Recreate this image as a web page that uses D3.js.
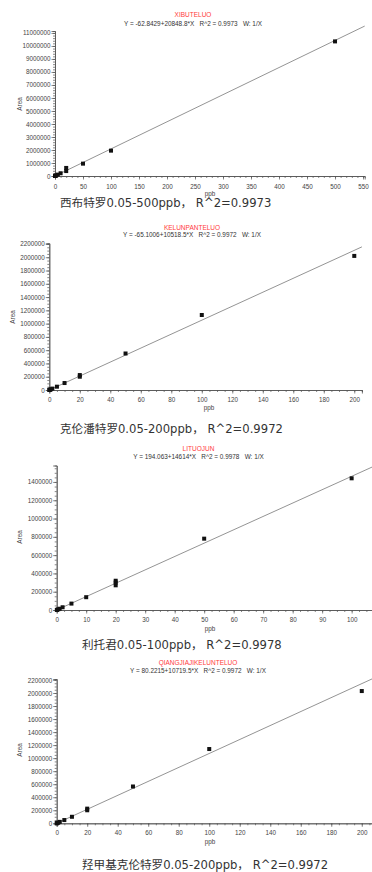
<!DOCTYPE html>
<html><head><meta charset="utf-8">
<script src="https://cdn.jsdelivr.net/npm/d3@7/dist/d3.min.js"></script>
<style>
html,body{margin:0;padding:0;background:#fff;}
svg{display:block;}
.eq{white-space:pre;}
</style></head>
<body>
<svg id="chart" width="372" height="872"></svg>
<script>
// ---- data ----
const titles = ["XIBUTELUO", "KELUNPANTELUO", "LITUOJUN", "QIANGJIAJIKELUNTELUO"];
const intercepts = ["-62.8429", "-65.1006", "194.063", "80.2215"];
const slopes = ["20848.8", "10518.5", "14614", "10719.5"];
const r2 = ["0.9973", "0.9972", "0.9978", "0.9972"];
const captions = [
  "西布特罗0.05-500ppb， R^2=0.9973",
  "克伦潘特罗0.05-200ppb， R^2=0.9972",
  "利托君0.05-100ppb， R^2=0.9978",
  "羟甲基克伦特罗0.05-200ppb， R^2=0.9972"
];
const conc1 = [0.05, 0.1, 0.5, 1, 2, 5, 10, 20, 20, 50, 100, 500];
const area1 = [900, 2000, 10000, 21000, 42000, 105000, 210000, 380000, 620000, 950000, 1950000, 10350000];
const conc2 = [0.05, 0.1, 0.5, 1, 2, 5, 10, 20, 20, 50, 100, 200];
const area2 = [500, 1000, 5000, 10500, 21000, 50000, 105000, 200000, 225000, 550000, 1130000, 2020000];
const conc3 = [0.05, 0.1, 0.5, 1, 2, 5, 10, 20, 20, 20, 50, 100];
const area3 = [700, 1500, 7000, 14000, 30000, 70000, 140000, 270000, 300000, 320000, 780000, 1440000];
const conc4 = [0.05, 0.1, 0.5, 1, 2, 5, 10, 20, 20, 50, 100, 200];
const area4 = [600, 1100, 5500, 11000, 22000, 50000, 100000, 200000, 225000, 565000, 1140000, 2030000];
const xTicks1 = [0, 50, 100, 150, 200, 250, 300, 350, 400, 450, 500, 550];
const xTicks2 = [0, 20, 40, 60, 80, 100, 120, 140, 160, 180, 200];
const xTicks3 = [0, 10, 20, 30, 40, 50, 60, 70, 80, 90, 100];
const xTicks4 = [0, 20, 40, 60, 80, 100, 120, 140, 160, 180, 200];
const yTicks1 = [0, 1000000, 2000000, 3000000, 4000000, 5000000, 6000000, 7000000, 8000000, 9000000, 10000000, 11000000];
const yTicks2 = [0, 200000, 400000, 600000, 800000, 1000000, 1200000, 1400000, 1600000, 1800000, 2000000, 2200000];
const yTicks3 = [0, 200000, 400000, 600000, 800000, 1000000, 1200000, 1400000];
const yTicks4 = [0, 200000, 400000, 600000, 800000, 1000000, 1200000, 1400000, 1600000, 1800000, 2000000, 2200000];
const xLabel = "ppb";
const yLabel = "Area";

const concs = [conc1, conc2, conc3, conc4];
const areas = [area1, area2, area3, area4];
const xTicksAll = [xTicks1, xTicks2, xTicks3, xTicks4];
const yTicksAll = [yTicks1, yTicks2, yTicks3, yTicks4];

// ---- layout ----
const layouts = [
  {xMax:553, xr:[55,364.7], yMax:11150000, yr:[176,31], titleX:193, titleY:17, eqY:25.5, xLabY:188.5, ppbX:210, ppbY:195.5, areaX:22, areaY:104, capX:60, capY:206.5, xMinor:10, yMinor:200000},
  {xMax:205, xr:[49.3,361.9], yMax:2210000, yr:[390,243.3], titleX:192, titleY:229.5, eqY:237.3, xLabY:401.5, ppbX:209, ppbY:410, areaX:15, areaY:317, capX:60, capY:432.5, xMinor:5, yMinor:50000},
  {xMax:106.9, xr:[56.7,372], yMax:1580000, yr:[610,465.5], titleX:198.5, titleY:451.3, eqY:458.5, xLabY:622, ppbX:210, ppbY:630.5, areaX:22, areaY:537, capX:82, capY:649, xMinor:2.5, yMinor:50000},
  {xMax:206.7, xr:[56.7,372], yMax:2215000, yr:[823.3,679], titleX:198, titleY:665, eqY:673, xLabY:835, ppbX:210, ppbY:844, areaX:22, areaY:750, capX:82, capY:868.5, xMinor:5, yMinor:50000}
];

const svg = d3.select("#chart");
const tickFont = "Liberation Sans, Arial, sans-serif";

layouts.forEach((L, i) => {
  const g = svg.append("g");
  const x = d3.scaleLinear().domain([0, L.xMax]).range(L.xr);
  const y = d3.scaleLinear().domain([0, L.yMax]).range(L.yr);

  const xMinorVals = d3.range(0, L.xMax + 1e-9, L.xMinor);
  const yMinorVals = d3.range(0, L.yMax + 1e-9, L.yMinor);

  const xAxisMinor = g.append("g").attr("transform", `translate(0,${L.yr[0]})`)
    .call(d3.axisBottom(x).tickValues(xMinorVals).tickSize(2).tickFormat(""));
  const yAxisMinor = g.append("g").attr("transform", `translate(${L.xr[0]},0)`)
    .call(d3.axisLeft(y).tickValues(yMinorVals).tickSize(2).tickFormat(""));

  const xAxis = g.append("g").attr("transform", `translate(0,${L.yr[0]})`)
    .call(d3.axisBottom(x).tickValues(xTicksAll[i]).tickSize(3.5).tickPadding(2).tickFormat(d3.format("d")));
  const yAxis = g.append("g").attr("transform", `translate(${L.xr[0]},0)`)
    .call(d3.axisLeft(y).tickValues(yTicksAll[i]).tickSize(3.5).tickPadding(1).tickFormat(d3.format("d")));

  [xAxisMinor, yAxisMinor, xAxis, yAxis].forEach(a => {
    a.selectAll("path.domain").attr("stroke", "#555").attr("stroke-width", 0.8);
    a.selectAll(".tick line").attr("stroke", "#555").attr("stroke-width", 0.7);
  });
  xAxis.selectAll(".tick text").remove();
  xAxis.selectAll(".tick").append("text")
    .attr("x", 0).attr("y", L.xLabY - L.yr[0])
    .attr("text-anchor", "middle")
    .attr("font-family", tickFont).attr("font-size", 6.3).attr("fill", "#444")
    .text(d => d);
  yAxis.selectAll(".tick text")
    .attr("font-family", tickFont).attr("font-size", 6.3).attr("fill", "#444");

  // regression line
  const a = +intercepts[i], b = +slopes[i];
  g.append("line")
    .attr("x1", x(0)).attr("y1", y(a))
    .attr("x2", x(L.xMax)).attr("y2", y(a + b * L.xMax))
    .attr("stroke", "#888").attr("stroke-width", 0.9);

  // points
  const pts = concs[i].map((c, k) => ({c, v: areas[i][k]}));
  g.selectAll("rect.pt").data(pts).enter().append("rect")
    .attr("class", "pt")
    .attr("x", d => x(d.c) - 2).attr("y", d => y(d.v) - 2)
    .attr("width", 4).attr("height", 4)
    .attr("fill", "#111");

  // titles
  g.append("text").attr("x", L.titleX).attr("y", L.titleY)
    .attr("text-anchor", "middle").attr("font-family", tickFont)
    .attr("font-size", 6.5).attr("fill", "#ff3b3b").text(titles[i]);
  g.append("text").attr("class", "eq").attr("x", L.titleX).attr("y", L.eqY)
    .attr("text-anchor", "middle").attr("font-family", tickFont)
    .attr("font-size", 6.4).attr("fill", "#333")
    .text(`Y = ${intercepts[i]}+${slopes[i]}*X   R^2 = ${r2[i]}   W: 1/X`);

  // axis labels
  g.append("text").attr("x", L.ppbX).attr("y", L.ppbY)
    .attr("text-anchor", "middle").attr("font-family", tickFont)
    .attr("font-size", 6.3).attr("fill", "#444").text(xLabel);
  g.append("text").attr("transform", `translate(${L.areaX},${L.areaY}) rotate(-90)`)
    .attr("text-anchor", "middle").attr("font-family", tickFont)
    .attr("font-size", 6.5).attr("fill", "#444").text(yLabel);

  // caption
  g.append("text").attr("class", "eq").attr("x", L.capX).attr("y", L.capY)
    .attr("font-family", "DejaVu Sans, Noto Sans CJK SC, sans-serif")
    .attr("font-size", 11.6).attr("fill", "#333").text(captions[i]);
});
</script>
</body></html>
